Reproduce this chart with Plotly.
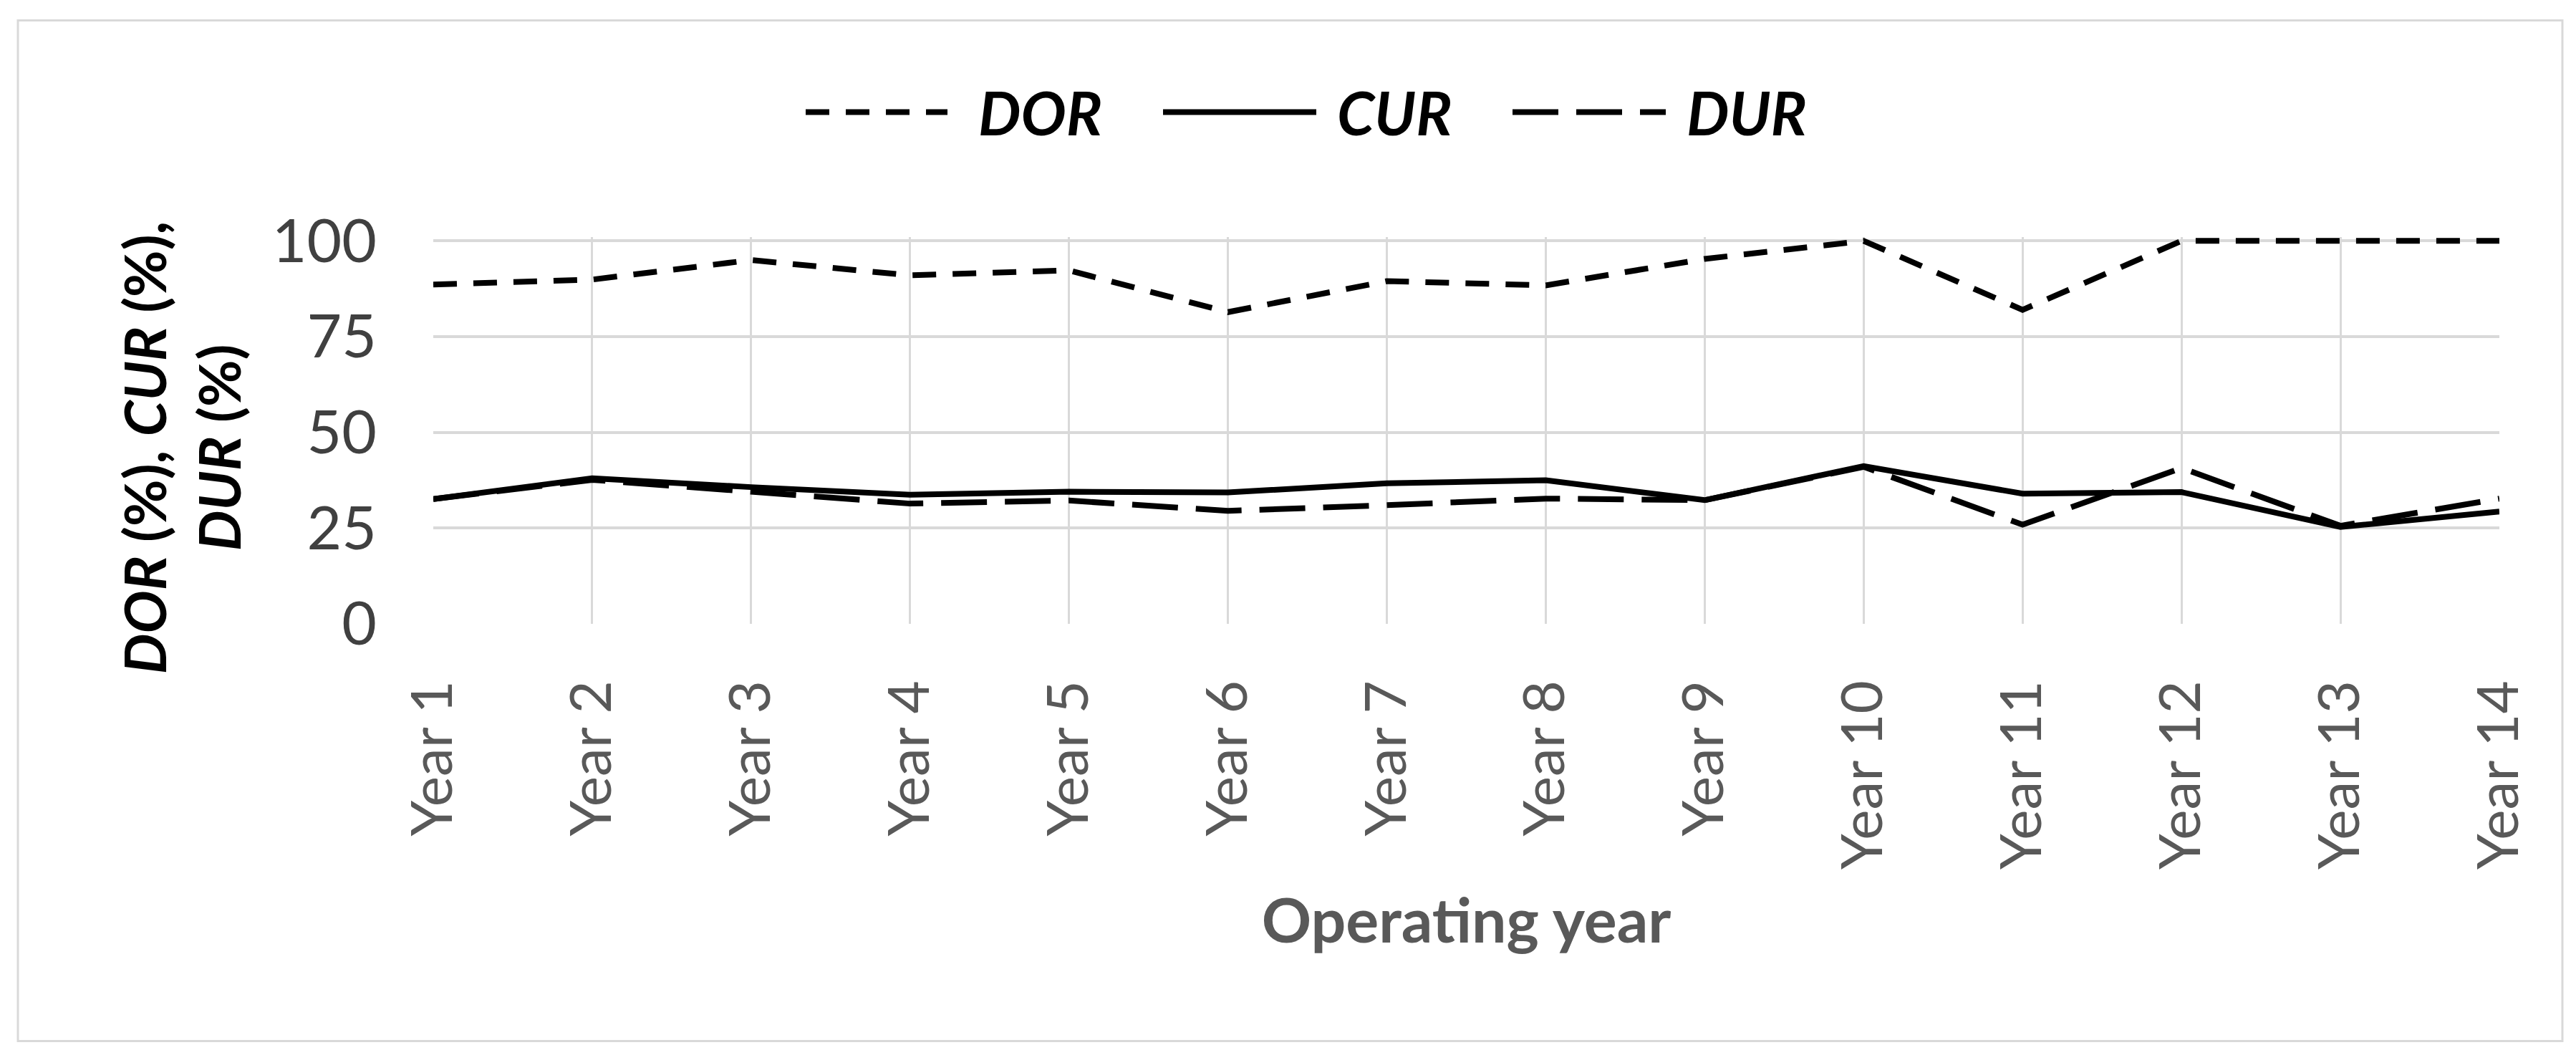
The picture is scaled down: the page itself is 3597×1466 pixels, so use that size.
import plotly.graph_objects as go

years = ["Year 1", "Year 2", "Year 3", "Year 4", "Year 5", "Year 6", "Year 7",
         "Year 8", "Year 9", "Year 10", "Year 11", "Year 12", "Year 13", "Year 14"]
dor = [88.6, 89.9, 95.0, 91.0, 92.3, 81.4, 89.5, 88.4, 95.3, 100.0, 82.0, 100.0, 100.0, 100.0]
cur = [32.6, 38.0, 35.7, 33.7, 34.5, 34.3, 36.7, 37.5, 32.3, 41.2, 34.0, 34.4, 25.3, 29.3]
dur = [32.6, 37.6, 34.5, 31.4, 32.2, 29.5, 31.0, 32.7, 32.3, 41.0, 25.9, 40.7, 25.6, 32.7]
y_ticks = [0, 25, 50, 75, 100]

W, H = 3597, 1466
Y_TOP_PX = 328          # pixel position of the 100 gridline
Y_MAX = 101             # small headroom so the line at 100 is not clipped
L, R, B = 597, 3482, 863
T = B - (B - Y_TOP_PX) * Y_MAX / 100.0
FONT = "Lato"

def px(xp):
    return (xp - L) / (R - L)

def py(yp):
    return (B - yp) / (B - T)

DOT = "33px,23px"
DASH = "64px,25px"
LW = 8

fig = go.Figure()
fig.add_trace(go.Scatter(x=years, y=dor, mode="lines", name="DOR",
                         line=dict(color="black", width=LW, dash=DOT)))
fig.add_trace(go.Scatter(x=years, y=cur, mode="lines", name="CUR",
                         line=dict(color="black", width=LW, dash="solid")))
fig.add_trace(go.Scatter(x=years, y=dur, mode="lines", name="DUR",
                         line=dict(color="black", width=LW, dash=DASH)))

fig.update_layout(
    width=W, height=H,
    margin=dict(l=L, r=W - R, t=T, b=H - B, autoexpand=False),
    paper_bgcolor="white", plot_bgcolor="white",
    showlegend=False,
    font=dict(family=FONT, size=84, color="#404040"),
)

fig.update_xaxes(
    type="category", range=[0, len(years) - 1],
    showgrid=True, gridcolor="#d9d9d9", gridwidth=3,
    showline=False, zeroline=False, ticks="",
    tickangle=-90, ticklabelstandoff=62,
    tickfont=dict(family=FONT, size=80, color="#595959"),
    title=dict(text="<b>Operating year</b>", standoff=42,
               font=dict(family=FONT, size=86, color="#595959")),
)
fig.update_yaxes(
    range=[0, Y_MAX], tickvals=y_ticks,
    showgrid=True, gridcolor="#d9d9d9", gridwidth=4,
    showline=False, zeroline=False, ticks="",
    ticklabelstandoff=78,
    tickfont=dict(family=FONT, size=84, color="#404040"),
)

# y axis title (two lines)
fig.add_annotation(
    x=px(245), y=py(617), xref="paper", yref="paper",
    xanchor="center", yanchor="middle", textangle=-90, showarrow=False,
    text="<b><i>DOR</i> (%), <i>CUR</i> (%),<br><i>DUR</i> (%)</b>",
    font=dict(family=FONT, size=80, color="black"),
)

# custom legend
leg_y = 148
items = [("DOR", DOT, 1117, 1315, 1356), ("CUR", "solid", 1616, 1830, 1857),
         ("DUR", DASH, 2104, 2318, 2345)]
for name, dash, x0, x1, xt in items:
    fig.add_shape(type="line", xref="paper", yref="paper",
                  x0=px(x0), x1=px(x1), y0=py(leg_y), y1=py(leg_y),
                  line=dict(color="black", width=LW, dash=dash))
    fig.add_annotation(x=px(xt), y=py(leg_y), xref="paper", yref="paper",
                       xanchor="left", yanchor="middle", showarrow=False,
                       text=f"<b><i>{name}</i></b>",
                       font=dict(family=FONT, size=84, color="black"))

# chart border
fig.add_shape(type="rect", xref="paper", yref="paper",
              x0=px(17), x1=px(3570), y0=py(1446), y1=py(20),
              line=dict(color="#d9d9d9", width=3), fillcolor="rgba(0,0,0,0)", layer="below")

fig.write_html("out.html")
